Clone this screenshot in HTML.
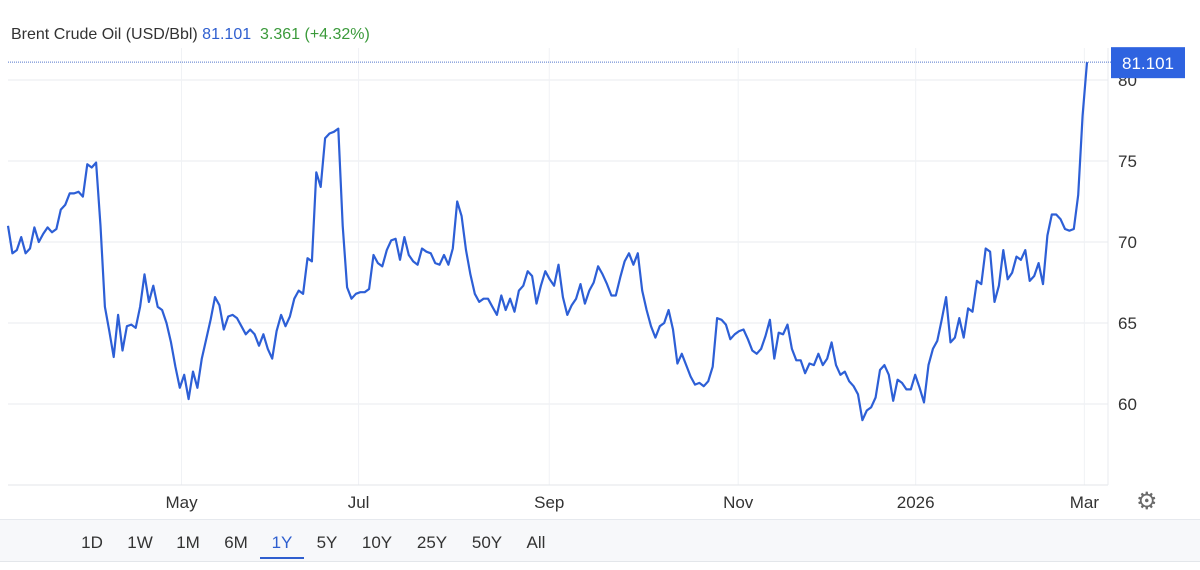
<!DOCTYPE html>
<html><head><meta charset="utf-8"><style>
body{margin:0;width:1200px;height:570px;background:#fff;font-family:"Liberation Sans",sans-serif;overflow:hidden;position:relative}
.t{position:absolute;white-space:nowrap}
.btn{position:absolute;top:533px;font-size:17px;color:#333;transform:translateX(-50%);cursor:pointer}
</style></head><body>
<div class="t" style="left:11px;top:26px;font-size:16px;color:#333">Brent Crude Oil (USD/Bbl) <span style="color:#2f5fcf">81.101</span>&nbsp;&nbsp;<span style="color:#3b9a3b">3.361 (+4.32%)</span></div>
<svg id="chart" width="1200" height="570" style="position:absolute;left:0;top:0"></svg>
<div style="position:absolute;left:0;top:519px;width:1200px;height:41px;background:#f7f8fa;border-top:1px solid #e6e9ee;border-bottom:1px solid #e3e6ea"></div>
<div class="btn" style="left:92px">1D</div>
<div class="btn" style="left:140px">1W</div>
<div class="btn" style="left:188px">1M</div>
<div class="btn" style="left:236px">6M</div>
<div class="btn" style="left:282px;color:#2f5fcf">1Y</div>
<div style="position:absolute;left:260px;top:557px;width:44px;height:2px;background:#2f5fcf"></div>
<div class="btn" style="left:327px">5Y</div>
<div class="btn" style="left:377px">10Y</div>
<div class="btn" style="left:432px">25Y</div>
<div class="btn" style="left:487px">50Y</div>
<div class="btn" style="left:536px">All</div>
<div class="t" style="left:1136px;top:487px;font-size:24px;color:#6b6b6b">⚙</div>
<script>
const prices=[71,69.3,69.5,70.3,69.3,69.6,70.9,70,70.5,70.9,70.6,70.8,72,72.3,73,73,73.1,72.8,74.8,74.6,74.9,
71,66,64.5,62.9,65.5,63.3,64.8,64.9,64.7,66,68,66.3,67.3,66,65.8,65,63.8,62.3,61,61.8,60.3,
62,61,62.8,64,65.2,66.6,
66.1,64.6,65.4,65.5,65.3,64.8,64.3,64.6,64.3,63.6,64.3,63.4,62.8,
64.5,65.5,64.8,65.4,66.5,67,66.8,69,68.8,74.3,73.4,76.4,76.7,76.8,77,
71,67.2,66.5,66.8,66.9,66.9,67.1,69.2,68.7,68.5,69.5,70.1,70.2,68.9,
70.3,69.2,68.8,68.6,69.6,69.4,69.3,68.7,68.6,69.2,68.6,69.6,72.5,
71.6,69.5,68,66.8,66.3,66.5,66.5,66,65.5,66.7,65.8,66.5,65.7,67,67.3,68.2,
67.9,66.2,67.3,68.2,67.7,67.3,68.6,66.6,
65.5,66.1,66.5,67.4,66.2,67,67.5,68.5,68,67.4,66.7,66.7,67.8,68.8,69.3,
68.6,69.3,67,65.8,64.8,64.1,64.8,65,65.8,64.6,62.5,63.1,62.4,61.7,61.2,61.3,61.1,61.4,62.3,65.3,
65.2,64.9,64,64.3,64.5,64.6,64.0,63.3,63.1,63.4,64.2,65.2,
62.8,64.4,64.3,64.9,63.4,62.7,62.7,61.9,62.5,62.4,63.1,62.4,62.8,63.8,62.4,61.8,62,61.4,61.1,60.6,59,59.6,59.8,60.4,62.1,62.4,61.8,60.2,61.5,61.3,60.9,60.9,61.8,61,60.1,62.4,63.4,63.9,65.2,66.6,63.8,64.1,65.3,64.1,65.9,65.7,67.6,67.4,69.6,69.4,66.3,67.3,69.5,67.7,68.1,69.1,68.9,69.5,67.6,67.9,68.7,67.4,70.4,71.7,71.7,71.4,70.8,70.7,70.8,72.9,77.8,81.101];
const yTicks=[60,65,70,75,80];
const monthLabels=["May","Jul","Sep","Nov","2026","Mar"];
const monthIdx=[39.4,79.6,122.9,165.8,206.1,244.4];
const lastLabel="81.101";
const NS="http://www.w3.org/2000/svg";
const svg=document.getElementById('chart');
const X0=8,X1=1087,Y80=80,PPU=16.2;
const xs=i=>X0+i*(X1-X0)/(prices.length-1);
const ys=v=>Y80+(80-v)*PPU;
function mk(t,a){const e=document.createElementNS(NS,t);for(const k in a)e.setAttribute(k,a[k]);svg.appendChild(e);return e;}
yTicks.forEach(v=>{const l=mk('line',{x1:8,x2:1108,y1:ys(v),y2:ys(v),stroke:'#e8ebef','stroke-width':1});


const t=mk('text',{x:1118,y:ys(v)+6,'font-size':17,fill:'#333','font-family':'Liberation Sans'});t.textContent=v;

});
monthIdx.forEach((ix,k)=>{const x=xs(ix);const l=mk('line',{x1:x,x2:x,y1:48,y2:485,stroke:'#f0f2f5','stroke-width':1});


const t=mk('text',{x:x,y:508,'font-size':17,fill:'#333','text-anchor':'middle','font-family':'Liberation Sans'});t.textContent=monthLabels[k];

});
const ax=mk('line',{x1:8,x2:1108,y1:485,y2:485,stroke:'#e3e6ea'});


const rb=mk('line',{x1:1108,x2:1108,y1:48,y2:485,stroke:'#e8ebef'});


const lv=prices[prices.length-1];
const dl=mk('line',{x1:8,x2:1111,y1:ys(lv),y2:ys(lv),stroke:'#5577cc','stroke-width':1,'stroke-dasharray':'1,1'});


const p=mk('path',{d:prices.map((v,i)=>(i?'L':'M')+xs(i).toFixed(1)+','+ys(v).toFixed(1)).join(''),fill:'none',stroke:'#2d5fd6','stroke-width':2.2,'stroke-linejoin':'round'});


const r=mk('rect',{x:1111,y:ys(lv)-15,width:74,height:31,fill:'#2e63e0'});


const bt=mk('text',{x:1148,y:ys(lv)+7,'font-size':17,fill:'#fff','text-anchor':'middle','font-family':'Liberation Sans'});bt.textContent=lastLabel;


</script>
</body></html>
